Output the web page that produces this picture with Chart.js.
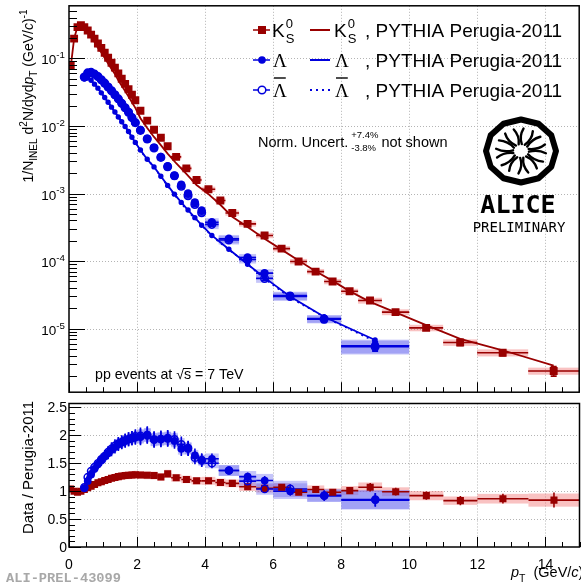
<!DOCTYPE html>
<html>
<head>
<meta charset="utf-8">
<script src="https://cdn.jsdelivr.net/npm/chart.js@4.4.0/dist/chart.umd.min.js"></script>
<style>
  html, body { margin: 0; padding: 0; background: #fff; overflow: hidden; width: 581px; height: 586px; }
  canvas { position: absolute; left: 0; }
  #top { top: 0; }
  #bot { top: 398px; }
</style>
</head>
<body>
<canvas id="top" width="585" height="398"></canvas>
<canvas id="bot" width="585" height="188"></canvas>
<script>
// ---- K0S (pT bin centre, half width, yield, errors, PYTHIA, ratio) ----
const k0Pt = [0.05,0.15,0.25,0.35,0.45,0.55,0.65,0.75,0.85,0.95,1.05,1.15,1.25,1.35,1.45,1.55,1.65,1.75,1.85,1.95,
  2.1,2.3,2.5,2.7,2.9,3.15,3.45,3.75,4.1,4.45,4.8,5.25,5.75,6.25,6.75,7.25,7.75,8.25,8.85,9.6,10.5,11.5,12.75,14.25];
const k0HalfWidth = [0.05,0.05,0.05,0.05,0.05,0.05,0.05,0.05,0.05,0.05,0.05,0.05,0.05,0.05,0.05,0.05,0.05,0.05,0.05,0.05,
  0.1,0.1,0.1,0.1,0.1,0.15,0.15,0.15,0.2,0.15,0.2,0.25,0.25,0.25,0.25,0.25,0.25,0.25,0.35,0.4,0.5,0.5,0.75,0.75];
const k0Yield = [0.077,0.196,0.29,0.31,0.29,0.258,0.225,0.196,0.166,0.143,0.121,0.102,0.086,0.073,0.060,0.050,0.042,0.035,0.029,0.024,
  0.0168,0.0120,0.0088,0.0067,0.0050,0.00349,0.00236,0.00159,0.00116,0.00079,0.000516,0.000356,0.00024,0.000153,9.9e-5,7.0e-5,5.0e-5,3.58e-5,2.61e-5,1.76e-5,1.03e-5,6.26e-6,4.42e-6,2.37e-6];
const k0Stat = [0.01,0.01,0.01,0.01,0.01,0.01,0.01,0.01,0.01,0.01,0.01,0.01,0.01,0.01,0.01,0.01,0.01,0.01,0.01,0.01,
  0.01,0.01,0.01,0.01,0.01,0.012,0.012,0.015,0.015,0.02,0.02,0.025,0.03,0.03,0.035,0.04,0.04,0.06,0.07,0.07,0.08,0.1,0.1,0.16];
const k0Sys = [0.08,0.08,0.08,0.08,0.08,0.08,0.08,0.08,0.08,0.08,0.08,0.08,0.08,0.08,0.08,0.08,0.08,0.08,0.08,0.08,
  0.08,0.08,0.08,0.08,0.08,0.08,0.08,0.08,0.09,0.09,0.09,0.09,0.09,0.09,0.09,0.09,0.09,0.09,0.1,0.1,0.11,0.11,0.12,0.12];
const k0Pythia = [0.074,0.196,0.296,0.31,0.282,0.243,0.206,0.175,0.144,0.122,0.1017,0.0843,0.0699,0.0586,0.0476,0.0394,0.0328,0.0272,0.0225,0.0185,
  0.0130,0.00934,0.00688,0.0052,0.0039,0.00281,0.00195,0.00134,0.00098,0.000683,0.000453,0.00032,0.000215,0.000148,0.000102,7.1e-5,5.1e-5,3.6e-5,2.5e-5,1.75e-5,1.13e-5,7.1e-6,4.8e-6,2.85e-6];
const k0Ratio = [1.04,1.00,0.98,1.00,1.03,1.06,1.09,1.12,1.15,1.17,1.19,1.21,1.23,1.245,1.26,1.27,1.28,1.285,1.29,1.295,
  1.29,1.285,1.28,1.255,1.31,1.24,1.21,1.185,1.185,1.156,1.14,1.08,1.05,1.07,0.98,1.03,0.98,1.01,1.07,0.99,0.92,0.83,0.865,0.84];
const k0RatioSys = [0.055,0.055,0.055,0.055,0.055,0.055,0.055,0.055,0.055,0.055,0.055,0.055,0.055,0.055,0.055,0.055,0.055,0.055,0.055,0.055,
  0.055,0.055,0.055,0.055,0.055,0.055,0.055,0.055,0.06,0.06,0.06,0.07,0.07,0.07,0.07,0.07,0.07,0.08,0.08,0.08,0.09,0.09,0.1,0.14];

// ---- Lambda and anti-Lambda ----
const lamPt = [0.45,0.55,0.65,0.75,0.85,0.95,1.05,1.15,1.25,1.35,1.45,1.55,1.65,1.75,1.85,1.95,
  2.1,2.3,2.5,2.7,2.9,3.1,3.3,3.5,3.7,3.9,4.2,4.7,5.25,5.75,6.5,7.5,9.0];
const lamHalfWidth = [0.05,0.05,0.05,0.05,0.05,0.05,0.05,0.05,0.05,0.05,0.05,0.05,0.05,0.05,0.05,0.05,
  0.1,0.1,0.1,0.1,0.1,0.1,0.1,0.1,0.1,0.1,0.2,0.3,0.25,0.25,0.5,0.5,1.0];
const lamYield = [0.0525,0.0603,0.0617,0.0582,0.0537,0.0479,0.0427,0.0376,0.0331,0.0288,0.0251,0.0216,0.0186,0.0160,0.0133,0.0112,
  0.0087,0.00646,0.00479,0.00347,0.00251,0.00184,0.00135,0.00100,0.00074,0.00056,0.000376,0.000214,0.000113,6.65e-5,3.09e-5,1.41e-5,5.6e-6];
const alamYield = [0.053,0.061,0.062,0.0585,0.054,0.0482,0.043,0.0378,0.0332,0.0289,0.0252,0.0216,0.0186,0.0160,0.0133,0.0112,
  0.0086,0.0064,0.00472,0.00343,0.00250,0.00183,0.00128,0.00093,0.00069,0.00052,0.00035,0.000205,0.000106,5.55e-5,3.0e-5,1.38e-5,5.4e-6];
const lamStat = [0.05,0.06,0.06,0.06,0.06,0.065,0.065,0.065,0.065,0.065,0.065,0.065,0.065,0.065,0.065,0.065,
  0.075,0.075,0.075,0.075,0.075,0.075,0.075,0.075,0.075,0.075,0.06,0.05,0.06,0.07,0.08,0.1,0.14];
const lamSys = [0.12,0.12,0.12,0.12,0.12,0.12,0.12,0.12,0.12,0.12,0.12,0.12,0.12,0.12,0.12,0.12,
  0.12,0.12,0.12,0.12,0.12,0.12,0.12,0.12,0.12,0.12,0.15,0.14,0.13,0.14,0.14,0.13,0.23];
const lamPythia = [0.050,0.0511,0.0475,0.0416,0.0363,0.0309,0.0264,0.0224,0.0190,0.0161,0.0136,0.01155,0.0098,0.0083,0.00682,0.00571,
  0.00442,0.00321,0.00248,0.00180,0.00132,0.00098,0.00074,0.00057,0.00044,0.00034,0.00024,0.000150,9.0e-5,5.7e-5,3.0e-5,1.5e-5,6.8e-6];
const alamPythia = [0.0495,0.0488,0.0456,0.0409,0.036,0.0307,0.0264,0.0222,0.0189,0.016,0.0136,0.0115,0.00974,0.00829,0.00682,0.00566,
  0.00432,0.0032,0.00246,0.00178,0.0013,0.00096,0.00072,0.00054,0.00043,0.00034,0.000235,0.000148,9.0e-5,5.5e-5,2.9e-5,1.5e-5,6.5e-6];
const lamRatio = [1.05,1.18,1.30,1.40,1.48,1.55,1.62,1.68,1.74,1.79,1.84,1.87,1.90,1.93,1.95,1.96,
  1.97,2.01,1.93,1.94,1.94,1.90,1.76,1.76,1.64,1.56,1.58,1.37,1.26,1.19,1.00,0.92,0.84];
const alamRatio = [1.07,1.25,1.36,1.43,1.50,1.57,1.63,1.70,1.76,1.81,1.85,1.88,1.91,1.93,1.95,1.98,
  1.99,2.00,1.92,1.93,1.95,1.93,1.84,1.77,1.60,1.55,1.50,1.37,1.18,1.04,1.04,0.92,0.85];
const lamRatioSys = [0.05,0.05,0.05,0.05,0.05,0.05,0.05,0.05,0.05,0.05,0.05,0.05,0.05,0.05,0.05,0.05,
  0.06,0.06,0.06,0.06,0.06,0.06,0.06,0.06,0.06,0.06,0.06,0.07,0.08,0.1,0.14,0.12,0.2];

// axes
const xMajor = [0,2,4,6,8,10,12,14];
const yDecades = [-1,-2,-3,-4,-5];
const ratioTicks = [0,0.5,1,1.5,2,2.5];

const RED = '#990000';
const BLUE = '#0000dd';
const RED_BOX = 'rgba(240,110,110,0.42)';
const BLUE_BOX = 'rgba(110,110,240,0.40)';
const SANS = '"Liberation Sans", Arial, sans-serif';
const SERIF = '"Liberation Serif", "Times New Roman", serif';
const MONO = '"DejaVu Sans Mono", monospace';

function font(sz, it, fam, bold) {
  return (it ? 'italic ' : '') + (bold ? 'bold ' : '') + sz + 'px ' + (fam || SANS);
}

// draws [text, 'sub'|'sup'|'', italic] segments, returns width
function rich(ctx, segs, x, y, size, measureOnly) {
  let cx = x;
  for (const s of segs) {
    const kind = s[1] || '';
    const sz = kind ? size * 0.72 : size;
    ctx.font = font(sz, s[2], s[3]);
    const dy = kind === 'sub' ? size * 0.32 : kind === 'sup' ? -size * 0.45 : 0;
    if (!measureOnly) ctx.fillText(s[0], cx, y + dy);
    cx += ctx.measureText(s[0]).width;
  }
  return cx - x;
}

function pts(xs, ys) { return xs.map((x, i) => ({x: x, y: ys[i]})); }

function clipArea(chart) {
  const a = chart.chartArea, ctx = chart.ctx;
  ctx.beginPath();
  ctx.rect(a.left, a.top, a.right - a.left, a.bottom - a.top);
  ctx.clip();
}

function drawGrid(chart, xv, yv) {
  const ctx = chart.ctx, a = chart.chartArea, sx = chart.scales.x, sy = chart.scales.y;
  ctx.save();
  ctx.strokeStyle = '#b4b4b4';
  ctx.lineWidth = 1;
  ctx.setLineDash([1, 2]);
  xv.forEach(v => {
    const p = Math.round(sx.getPixelForValue(v)) + 0.5;
    ctx.beginPath(); ctx.moveTo(p, a.top); ctx.lineTo(p, a.bottom); ctx.stroke();
  });
  yv.forEach(v => {
    const p = Math.round(sy.getPixelForValue(v)) + 0.5;
    ctx.beginPath(); ctx.moveTo(a.left, p); ctx.lineTo(a.right, p); ctx.stroke();
  });
  ctx.restore();
}

function drawBoxes(chart, xv, hw, yv, rel, color) {
  const ctx = chart.ctx, sx = chart.scales.x, sy = chart.scales.y;
  ctx.fillStyle = color;
  for (let i = 0; i < xv.length; i++) {
    const x0 = sx.getPixelForValue(xv[i] - hw[i]), x1 = sx.getPixelForValue(xv[i] + hw[i]);
    const y0 = sy.getPixelForValue(yv[i] * (1 + rel[i])), y1 = sy.getPixelForValue(yv[i] * (1 - rel[i]));
    ctx.fillRect(x0, y0, x1 - x0, y1 - y0);
  }
}

function drawErrors(chart, xv, hw, yv, rel, color, cap) {
  const ctx = chart.ctx, sx = chart.scales.x, sy = chart.scales.y;
  ctx.strokeStyle = color;
  ctx.lineWidth = 1.6;
  for (let i = 0; i < xv.length; i++) {
    const x = sx.getPixelForValue(xv[i]), y = sy.getPixelForValue(yv[i]);
    const x0 = sx.getPixelForValue(xv[i] - hw[i]), x1 = sx.getPixelForValue(xv[i] + hw[i]);
    const y0 = sy.getPixelForValue(yv[i] * (1 + rel[i])), y1 = sy.getPixelForValue(yv[i] * (1 - rel[i]));
    ctx.beginPath();
    ctx.moveTo(x0, y); ctx.lineTo(x1, y);
    ctx.moveTo(x, y0); ctx.lineTo(x, y1);
    if (cap) {
      ctx.moveTo(x - cap, y0); ctx.lineTo(x + cap, y0);
      ctx.moveTo(x - cap, y1); ctx.lineTo(x + cap, y1);
    }
    ctx.stroke();
  }
}

function drawXTicks(chart, major, minor) {
  const ctx = chart.ctx, a = chart.chartArea, sx = chart.scales.x;
  ctx.beginPath();
  for (let v = 0; v <= 15.001; v += 0.5) {
    const p = Math.round(sx.getPixelForValue(v)) + 0.5;
    const len = Math.abs(v / 2 - Math.round(v / 2)) < 1e-6 ? major : minor;
    ctx.moveTo(p, a.bottom); ctx.lineTo(p, a.bottom - len);
  }
  ctx.stroke();
}

function drawFrame(chart) {
  const ctx = chart.ctx, a = chart.chartArea;
  ctx.strokeStyle = '#000';
  ctx.lineWidth = 1.5;
  ctx.strokeRect(a.left, a.top, a.right - a.left, a.bottom - a.top);
}

function drawLogo(ctx, cx, cy) {
  ctx.save();
  ctx.strokeStyle = '#000';
  ctx.lineWidth = 6;
  ctx.lineJoin = 'round';
  ctx.beginPath();
  for (let i = 0; i <= 12; i++) {
    const a = Math.PI * 2 * i / 12;
    const x = cx + 35 * Math.cos(a), y = cy + 31.5 * Math.sin(a);
    if (i === 0) ctx.moveTo(x, y); else ctx.lineTo(x, y);
  }
  ctx.closePath();
  ctx.stroke();
  ctx.lineWidth = 2.4;
  ctx.lineCap = 'round';
  for (let i = 0; i < 16; i++) {
    const a = Math.PI * 2 * i / 16 + 0.1;
    const bend = i % 2 ? 0.22 : -0.22;
    ctx.beginPath();
    ctx.moveTo(cx + 8 * Math.cos(a), cy + 7 * Math.sin(a));
    ctx.quadraticCurveTo(cx + 17 * Math.cos(a + bend), cy + 15 * Math.sin(a + bend), cx + 25 * Math.cos(a), cy + 22.5 * Math.sin(a));
    ctx.stroke();
  }
  ctx.fillStyle = '#000';
  ctx.textAlign = 'center';
  ctx.font = font(25, false, MONO, true);
  ctx.fillText('ALICE', cx - 3, 213);
  ctx.font = font(14, false, MONO);
  ctx.fillText('PRELIMINARY', cx - 2, 232);
  ctx.restore();
}

function lambdaBar(ctx, x, base, size) {
  ctx.font = font(size, false, SERIF);
  ctx.fillText('\u039B', x, base);
  const w = ctx.measureText('\u039B').width;
  ctx.beginPath();
  ctx.lineWidth = 1.4;
  ctx.moveTo(x + 1, base - 19); ctx.lineTo(x + w - 1, base - 19);
  ctx.stroke();
}

const topDecor = {
  id: 'topDecor',
  beforeDatasetsDraw(chart) {
    const ctx = chart.ctx;
    ctx.save();
    clipArea(chart);
    drawGrid(chart, xMajor.slice(1), yDecades.map(d => Math.pow(10, d)));
    drawBoxes(chart, k0Pt, k0HalfWidth, k0Yield, k0Sys, RED_BOX);
    drawBoxes(chart, lamPt, lamHalfWidth, lamYield, lamSys, BLUE_BOX);
    drawBoxes(chart, lamPt, lamHalfWidth, alamYield, lamSys, BLUE_BOX);
    drawErrors(chart, k0Pt, k0HalfWidth, k0Yield, k0Stat, RED, 3);
    drawErrors(chart, lamPt, lamHalfWidth, lamYield, lamStat, BLUE, 3);
    drawErrors(chart, lamPt, lamHalfWidth, alamYield, lamStat, BLUE, 3);
    ctx.restore();
  },
  afterDraw(chart) {
    const ctx = chart.ctx, a = chart.chartArea, sy = chart.scales.y;
    ctx.save();
    drawFrame(chart);
    // log ticks on left axis
    ctx.lineWidth = 1;
    ctx.beginPath();
    for (let d = -6; d <= -1; d++) {
      for (let k = 1; k <= 9; k++) {
        const v = k * Math.pow(10, d);
        if (v < sy.min || v > sy.max) continue;
        const p = Math.round(sy.getPixelForValue(v)) + 0.5;
        ctx.moveTo(a.left, p); ctx.lineTo(a.left + (k === 1 ? 16 : 8), p);
      }
    }
    ctx.stroke();
    drawXTicks(chart, 10, 5);
    // tick labels
    ctx.fillStyle = '#000';
    yDecades.forEach(d => {
      const p = sy.getPixelForValue(Math.pow(10, d));
      const segs = [['10'], [String(d), 'sup']];
      const w = rich(ctx, segs, 0, 0, 13.5, true);
      rich(ctx, segs, 65 - w, p + 6, 13.5);
    });
    // y title
    ctx.save();
    ctx.translate(33, 96);
    ctx.rotate(-Math.PI / 2);
    const ySegs = [['1/N'], ['INEL', 'sub'], [' d'], ['2', 'sup'], ['N/dyd'], ['p', '', true], ['T', 'sub'], [' (GeV/'], ['c', '', true], [')'], ['-1', 'sup']];
    const yw = rich(ctx, ySegs, 0, 0, 14, true);
    rich(ctx, ySegs, -yw / 2, 0, 14);
    ctx.restore();

    // legend
    ctx.lineWidth = 1.5;
    ctx.strokeStyle = RED; ctx.fillStyle = RED;
    ctx.beginPath(); ctx.moveTo(253, 30); ctx.lineTo(270, 30); ctx.stroke();
    ctx.fillRect(258, 26, 8, 8);
    ctx.lineWidth = 2;
    ctx.beginPath(); ctx.moveTo(310, 30); ctx.lineTo(330, 30); ctx.stroke();
    ctx.strokeStyle = BLUE; ctx.fillStyle = BLUE;
    ctx.lineWidth = 1.5;
    ctx.beginPath(); ctx.moveTo(253, 60); ctx.lineTo(270, 60); ctx.stroke();
    ctx.beginPath(); ctx.arc(262, 60, 3.8, 0, Math.PI * 2); ctx.fill();
    ctx.beginPath(); ctx.moveTo(253, 90); ctx.lineTo(258, 90); ctx.moveTo(266, 90); ctx.lineTo(270, 90); ctx.stroke();
    ctx.beginPath(); ctx.arc(262, 90, 3.8, 0, Math.PI * 2); ctx.stroke();
    ctx.lineWidth = 2;
    ctx.beginPath(); ctx.moveTo(310, 60); ctx.lineTo(330, 60); ctx.stroke();
    ctx.setLineDash([2, 4]);
    ctx.beginPath(); ctx.moveTo(310, 90); ctx.lineTo(330, 90); ctx.stroke();
    ctx.setLineDash([]);

    ctx.fillStyle = '#000'; ctx.strokeStyle = '#000';
    [272, 334].forEach(x => {
      ctx.font = font(19);
      ctx.fillText('K', x, 37);
      const kw = ctx.measureText('K').width;
      ctx.font = font(13);
      ctx.fillText('0', x + kw + 1, 28);
      ctx.fillText('S', x + kw + 1, 43);
      ctx.font = font(19, false, SERIF);
      ctx.fillText('\u039B', x + 1, 67);
      lambdaBar(ctx, x + 1, 97, 19);
    });
    ctx.font = font(19);
    ctx.fillText(', PYTHIA Perugia-2011', 365, 37);
    ctx.fillText(', PYTHIA Perugia-2011', 365, 67);
    ctx.fillText(', PYTHIA Perugia-2011', 365, 97);

    // normalisation note
    ctx.font = font(14.5);
    ctx.fillText('Norm. Uncert.', 258, 147);
    let nx = 258 + ctx.measureText('Norm. Uncert.').width + 3;
    ctx.font = font(9.5);
    ctx.fillText('+7.4%', nx, 138);
    ctx.fillText('-3.8%', nx, 151);
    nx += ctx.measureText('+7.4%').width + 3;
    ctx.font = font(14.5);
    ctx.fillText('not shown', nx, 147);

    // collision system
    ctx.font = font(14.2);
    let tx = 95;
    ctx.fillText('pp events at ', tx, 379); tx += ctx.measureText('pp events at ').width;
    ctx.fillText('\u221A', tx, 379); tx += ctx.measureText('\u221A').width;
    const sw = ctx.measureText('s').width;
    ctx.fillText('s', tx, 379);
    ctx.lineWidth = 1;
    ctx.beginPath(); ctx.moveTo(tx - 1, 368.5); ctx.lineTo(tx + sw, 368.5); ctx.stroke();
    tx += sw;
    ctx.fillText(' = 7 TeV', tx, 379);

    drawLogo(ctx, 521, 151);
    ctx.restore();
  }
};

const botDecor = {
  id: 'botDecor',
  beforeDatasetsDraw(chart) {
    const ctx = chart.ctx;
    ctx.save();
    clipArea(chart);
    drawGrid(chart, xMajor.slice(1), ratioTicks.slice(1));
    drawBoxes(chart, k0Pt, k0HalfWidth, k0Ratio, k0RatioSys, RED_BOX);
    drawBoxes(chart, lamPt, lamHalfWidth, lamRatio, lamRatioSys, BLUE_BOX);
    drawBoxes(chart, lamPt, lamHalfWidth, alamRatio, lamRatioSys, BLUE_BOX);
    drawErrors(chart, k0Pt, k0HalfWidth, k0Ratio, k0Stat, RED, 0);
    drawErrors(chart, lamPt, lamHalfWidth, lamRatio, lamStat, BLUE, 0);
    drawErrors(chart, lamPt, lamHalfWidth, alamRatio, lamStat, BLUE, 0);
    ctx.restore();
  },
  afterDraw(chart) {
    const ctx = chart.ctx, a = chart.chartArea, sx = chart.scales.x, sy = chart.scales.y;
    ctx.save();
    drawFrame(chart);
    ctx.lineWidth = 1;
    ctx.beginPath();
    for (let i = 0; i <= 25; i++) {
      const v = i / 10;
      const p = Math.round(sy.getPixelForValue(v)) + 0.5;
      ctx.moveTo(a.left, p); ctx.lineTo(a.left + (i % 5 === 0 ? 12 : 6), p);
    }
    ctx.stroke();
    drawXTicks(chart, 10, 5);
    ctx.fillStyle = '#000';
    ctx.font = font(14);
    ctx.textAlign = 'right';
    ratioTicks.forEach(v => {
      ctx.fillText(String(v), 67, sy.getPixelForValue(v) + 5);
    });
    ctx.textAlign = 'center';
    xMajor.forEach(v => {
      ctx.fillText(String(v), sx.getPixelForValue(v), 170.5);
    });
    ctx.textAlign = 'left';
    // x title
    rich(ctx, [['p', '', true], ['T', 'sub'], ['  (GeV/'], ['c', '', true], [')']], 511, 179, 14.5);
    // y title
    ctx.save();
    ctx.translate(33, 69.5);
    ctx.rotate(-Math.PI / 2);
    ctx.font = font(15);
    ctx.textAlign = 'center';
    ctx.fillText('Data / Perugia-2011', 0, 0);
    ctx.restore();
    ctx.fillStyle = '#a8a8a8';
    ctx.font = font(13.7, false, '"Liberation Mono", monospace', true);
    ctx.fillText('ALI-PREL-43099', 6, 183.5);
    ctx.restore();
  }
};

const common = {
  responsive: false,
  animation: false,
  events: [],
  plugins: { legend: { display: false }, tooltip: { enabled: false } }
};

new Chart(document.getElementById('top'), {
  type: 'scatter',
  data: {
    datasets: [
      { data: pts(lamPt, lamYield), pointStyle: 'circle', pointRadius: 4.2, backgroundColor: BLUE, borderColor: BLUE, borderWidth: 0, showLine: false, order: 0 },
      { data: pts(lamPt, alamYield), pointStyle: 'circle', pointRadius: 3.8, backgroundColor: 'rgba(0,0,0,0)', borderColor: BLUE, borderWidth: 1.5, showLine: false, order: 1 },
      { data: pts(k0Pt, k0Yield), pointStyle: 'rect', pointRadius: 5.6, backgroundColor: RED, borderColor: RED, borderWidth: 0, showLine: false, order: 2 },
      { data: pts(k0Pt, k0Pythia), showLine: true, pointRadius: 0, borderColor: RED, borderWidth: 1.8, order: 5 },
      { data: pts(lamPt, lamPythia), showLine: true, pointRadius: 1.8, pointStyle: 'circle', backgroundColor: BLUE, borderColor: BLUE, borderWidth: 1.8, order: 6 },
      { data: pts(lamPt, alamPythia), showLine: true, pointRadius: 0, borderColor: BLUE, borderWidth: 1.8, borderDash: [2, 4], order: 4 }
    ]
  },
  options: Object.assign({}, common, {
    layout: { padding: { left: 69, right: 2, top: 4, bottom: 3 } },
    scales: {
      x: { type: 'linear', min: 0, max: 15, display: false },
      y: { type: 'logarithmic', min: 1.15e-6, max: 0.6, display: false }
    }
  }),
  plugins: [topDecor]
});

new Chart(document.getElementById('bot'), {
  type: 'scatter',
  data: {
    datasets: [
      { data: pts(lamPt, lamRatio), pointStyle: 'circle', pointRadius: 3.9, backgroundColor: BLUE, borderColor: BLUE, borderWidth: 0, showLine: false, order: 1 },
      { data: pts(lamPt, alamRatio), pointStyle: 'circle', pointRadius: 3.6, backgroundColor: 'rgba(0,0,0,0)', borderColor: BLUE, borderWidth: 1.5, showLine: false, order: 0 },
      { data: pts(k0Pt, k0Ratio), pointStyle: 'rect', pointRadius: 5, backgroundColor: RED, borderColor: RED, borderWidth: 0, showLine: false, order: 2 }
    ]
  },
  options: Object.assign({}, common, {
    layout: { padding: { left: 69, right: 2, top: 2, bottom: 39 } },
    scales: {
      x: { type: 'linear', min: 0, max: 15, display: false },
      y: { type: 'linear', min: 0, max: 2.57, display: false }
    }
  }),
  plugins: [botDecor]
});
</script>
</body>
</html>
